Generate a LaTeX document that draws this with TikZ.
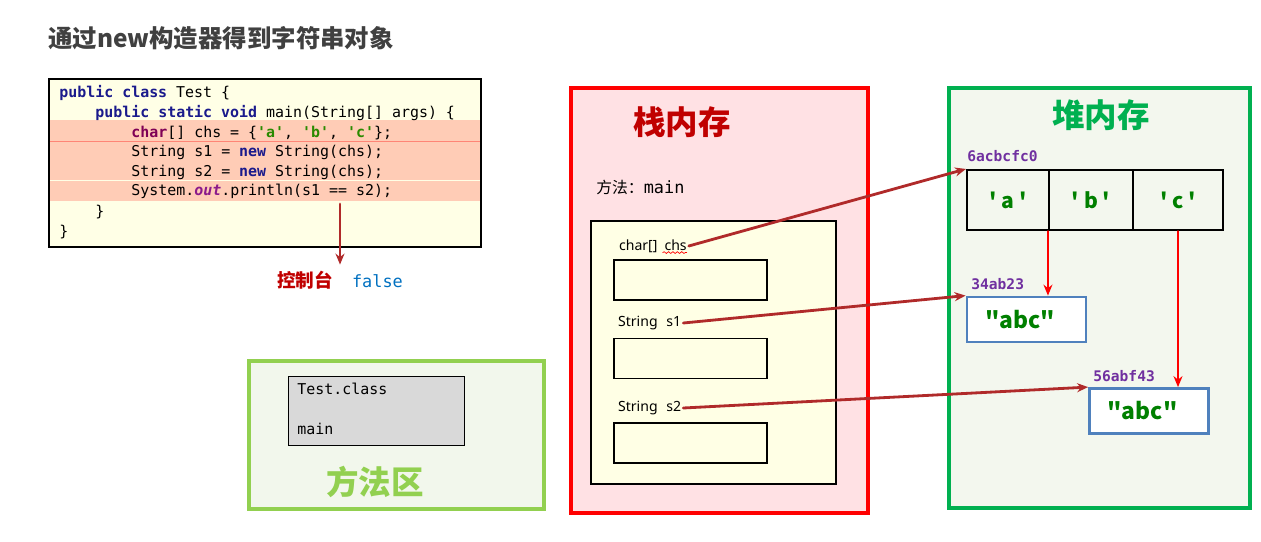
\documentclass[tikz,border=0pt]{standalone}
\usepackage{fontspec}
\setmainfont{Noto Sans}
\setmonofont{DejaVu Sans Mono}
\newfontfamily\cjk{Noto Sans CJK SC}[Ligatures=TeXOff]
\usetikzlibrary{arrows.meta,decorations.pathmorphing}
\usepackage{xcolor}

\definecolor{codebg}{HTML}{FFFFE6}
\definecolor{codehl}{HTML}{FFCCB6}
\definecolor{kwblue}{HTML}{1A1A8C}
\definecolor{kwpurple}{HTML}{7F0055}
\definecolor{strgreen}{HTML}{2A8A00}
\definecolor{outpurple}{HTML}{8B1A8B}
\definecolor{linkred}{HTML}{B02A2A}
\definecolor{stackred}{HTML}{C00000}
\definecolor{stackbg}{HTML}{FFE1E4}
\definecolor{slotbg}{HTML}{FFFFE5}
\definecolor{heapgreen}{HTML}{00B050}
\definecolor{heapbg}{HTML}{F3F7EE}
\definecolor{areagreen}{HTML}{92D050}
\definecolor{areabg}{HTML}{F2F7EC}
\definecolor{addrpurple}{HTML}{7030A0}
\definecolor{boxblue}{HTML}{4F81BD}
\definecolor{valgreen}{HTML}{008000}
\definecolor{falseblue}{HTML}{0070C0}
\definecolor{titlegray}{HTML}{404040}

\newcommand{\kw}[1]{{\bfseries\color{kwblue}#1}}
\newcommand{\lit}[1]{{\bfseries\color{strgreen}#1}}

\begin{document}
\begin{tikzpicture}[x=0.02cm,y=-0.02cm,>={Stealth[length=2.2mm,width=1.8mm]},line cap=round,
  codeline/.style={anchor=west,inner sep=0pt,font=\ttfamily\fontsize{8.5}{10}\selectfont,text height=7pt,text depth=2pt},
  varlabel/.style={anchor=west,inner sep=1pt,font=\fontsize{8}{10}\selectfont},
  slot/.style={draw,line width=1.1pt,minimum width=3.06cm,minimum height=0.8cm,inner sep=0pt},
  cell/.style={draw,line width=1.2pt,minimum height=1.2cm,inner sep=0pt,text=valgreen,font=\cjk\bfseries\fontsize{12}{14}\selectfont},
  strobj/.style={draw=boxblue,line width=1.6pt,fill=white,text width=1.66cm,inner xsep=0.36cm,minimum height=0.9cm,align=left,text=valgreen,font=\cjk\bfseries\fontsize{13}{15}\selectfont},
  addr/.style={anchor=base west,inner sep=0pt,text=addrpurple,font=\ttfamily\bfseries\fontsize{8.3}{10}\selectfont},
  memtitle/.style={inner sep=0pt,font=\cjk\bfseries\fontsize{18.5}{20}\selectfont},
  link/.style={->,linkred,line width=1.6pt},
  ref/.style={->,red,line width=0.9pt}]
\useasboundingbox (0,0) rectangle (1261,541);
\node[anchor=west,inner sep=0pt,text=titlegray,font=\cjk\bfseries\fontsize{13.9}{16}\selectfont] (title) at (48,38) {通过new构造器得到字符串对象};

\fill[codebg] (49,79) rectangle (481,247);
\fill[codehl] (49,120) rectangle (481,141);
\draw[red!35!codehl,line width=0.5pt] (49,141) -- (481,141);
\fill[codehl] (49,142) rectangle (481,180);
\fill[codehl] (49,181) rectangle (481,201);
\draw[line width=0.6pt] (49,79) rectangle (481,247);
\node[codeline] (l1) at (59,93) {\kw{public class} Test \{};
\node[codeline] (l2) at (95,113) {\kw{public static void} main(String[] args) \{};
\node[codeline] (l3) at (131,133) {{\bfseries\color{kwpurple}char}[] chs = \{\lit{'a'}, \lit{'b'}, \lit{'c'}\};};
\node[codeline] (l4) at (131,152) {String s1 = \kw{new} String(chs);};
\node[codeline] (l5) at (131,172) {String s2 = \kw{new} String(chs);};
\node[codeline] (l6) at (131,191) {System.{\bfseries\itshape\color{outpurple}out}.println(s1 == s2);};
\node[codeline] (l7) at (95,212) {\}};
\node[codeline] (l8) at (59,232) {\}};

\node[inner sep=0pt] (console) at (340,280) {{\cjk\bfseries\fontsize{10.6}{12}\selectfont\color{stackred}控制台}\hspace{10.8pt}{\ttfamily\fontsize{9.6}{11}\selectfont\color{falseblue}false}};
\coordinate (sysout) at (340,204);
\draw[link] (sysout) -- ([yshift=0.12cm]console.north);

\draw[areagreen,fill=areabg,line width=2pt] (249,361) rectangle (544,509);
\draw[fill=black!15,line width=0.5pt] (288,376) rectangle (464,445);
\node[codeline] (cls) at (297,390) {Test.class};
\node[codeline] (mth) at (297,430) {main};
\node[memtitle,text=areagreen] (areatitle) at (375,482) {方法区};

\draw[red,fill=stackbg,line width=2pt] (571,88) rectangle (868,513);
\node[memtitle,text=stackred] (stacktitle) at (682,122) {栈内存};
\node[anchor=west,inner sep=0pt] (frame) at (596,187) {{\cjk\fontsize{9}{11}\selectfont 方法：}{\ttfamily\fontsize{9.6}{11}\selectfont main}};
\draw[fill=slotbg,line width=0.6pt] (591,221) rectangle (836,484);
\node[varlabel] (chs) at (617,246) {char[]\hspace{4pt}chs};
\node[slot] (chsslot) at (690.5,280) {};
\node[varlabel] (s1) at (616,323) {String\hspace{5pt}s1};
\node[slot] (s1slot) at (690.5,358.5) {};
\node[varlabel] (s2) at (616,408) {String\hspace{5pt}s2};
\node[slot] (s2slot) at (690.5,443) {};
\draw[red,line width=0.4pt,decorate,decoration={snake,amplitude=0.5pt,segment length=2.5pt}] ([xshift=-0.52cm,yshift=0.04cm]chs.south east) -- ([xshift=-0.04cm,yshift=0.04cm]chs.south east);

\draw[heapgreen,fill=heapbg,line width=2pt] (949,88) rectangle (1250,508);
\node[memtitle,text=heapgreen] (heaptitle) at (1101,115) {堆内存};
\node[cell,minimum width=1.64cm] (cella) at (1008,200) {' a '};
\node[cell,minimum width=1.68cm] (cellb) at (1091,200) {' b '};
\node[cell,minimum width=1.8cm] (cellc) at (1178,200) {' c '};
\node[addr] (addrarr) at (967,161) {6acbcfc0};
\node[strobj] (abc1) at (1026.5,319.5) {"abc"};
\node[addr] (addr1) at (971,289) {34ab23};
\node[strobj] (abc2) at (1149,411) {"abc"};
\node[addr] (addr2) at (1093,381) {56abf43};

\draw[ref] (cellb.south west) -- (cellb.south west |- abc1.north);
\draw[ref] (cellc.south) -- (cellc.south |- abc2.north);
\draw[link] (chs.east) -- (cella.north west);
\draw[link] (s1.east) -- (abc1.north west);
\draw[link] (s2.east) -- (abc2.north west);
\end{tikzpicture}
\end{document}
